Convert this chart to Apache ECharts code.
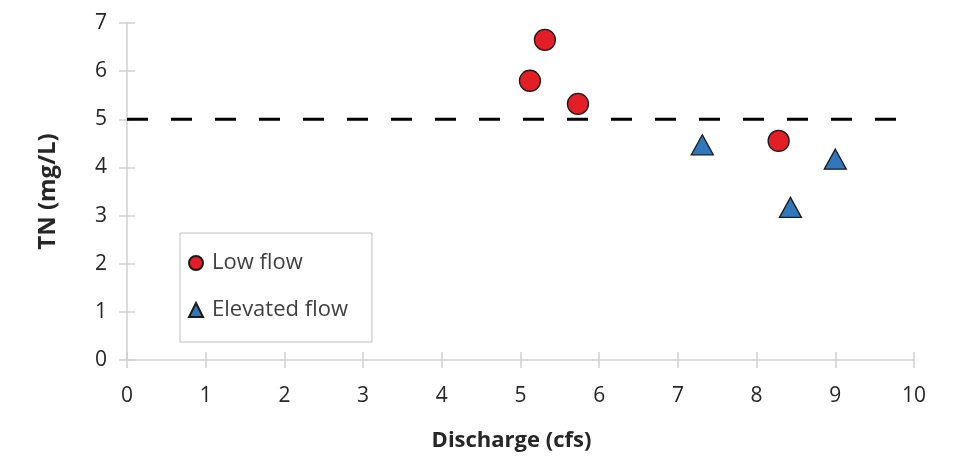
<!DOCTYPE html>
<html>
<head>
<meta charset="utf-8">
<script src="https://cdn.jsdelivr.net/npm/echarts@6/dist/echarts.min.js"></script>
<style>
  html, body { margin: 0; padding: 0; background: #ffffff; }
  #chart { width: 960px; height: 462px; }
</style>
</head>
<body>
<div id="chart"></div>
<script>
// Total nitrogen concentration vs. discharge
const lowFlowDischarge = [5.12, 5.31, 5.73, 8.28];
const lowFlowTN = [5.80, 6.65, 5.32, 4.55];
const elevatedFlowDischarge = [7.31, 8.43, 9.00];
const elevatedFlowTN = [4.47, 3.17, 4.17];
const criterionTN = 5;
const criterionExtent = [0, 9.78];

const seriesNames = ['Low flow', 'Elevated flow'];
const xTicks = { min: 0, max: 10, interval: 1 };
const yTicks = { min: 0, max: 7, interval: 1 };

const FONT = '"Open Sans", sans-serif';
const AXIS_GRAY = '#d0d0d0';
const TEXT = '#262626';

const pair = (xs, ys) => xs.map((x, i) => [x, ys[i]]);

const baseAxis = (t) => ({
  type: 'value', min: t.min, max: t.max, interval: t.interval,
  splitLine: { show: false },
  axisLine: { show: true, lineStyle: { color: AXIS_GRAY, width: 1.5 } },
  axisTick: { show: true, length: 8, lineStyle: { color: AXIS_GRAY, width: 1.5 } }
});

// second copy of each axis carries the inner half of the cross ticks
const innerTicks = (t, pos) => Object.assign(baseAxis(t), {
  position: pos, axisLine: { show: false },
  axisTick: { show: true, inside: true, length: 8, lineStyle: { color: AXIS_GRAY, width: 1.5 } },
  axisLabel: { show: false }
});

const chart = echarts.init(document.getElementById('chart'), null, { renderer: 'canvas' });
chart.setOption({
  animation: false,
  backgroundColor: '#ffffff',
  grid: { left: 127, right: 46, top: 23, bottom: 102 },
  xAxis: [
    Object.assign(baseAxis(xTicks), {
      name: 'Discharge (cfs)', nameLocation: 'middle', nameGap: 70,
      nameTextStyle: { fontFamily: FONT, fontWeight: 'bold', fontSize: 22, color: TEXT, padding: [0, 18, 0, 0] },
      axisLabel: { margin: 26, fontFamily: FONT, fontSize: 21, color: TEXT }
    }),
    innerTicks(xTicks, 'bottom')
  ],
  yAxis: [
    Object.assign(baseAxis(yTicks), {
      name: 'TN (mg/L)', nameLocation: 'middle', nameGap: 67, nameRotate: 90,
      nameTextStyle: { fontFamily: FONT, fontWeight: 'bold', fontSize: 24, color: TEXT },
      axisLabel: { margin: 20, fontFamily: FONT, fontSize: 21, color: TEXT }
    }),
    innerTicks(yTicks, 'left')
  ],
  legend: {
    data: seriesNames,
    orient: 'vertical',
    left: 180, top: 233,
    padding: [17, 24, 19, 8],
    itemWidth: 14, itemHeight: 14, itemGap: 21,
    backgroundColor: '#ffffff',
    borderColor: '#bfbfbf', borderWidth: 1, borderRadius: 0,
    textStyle: { fontFamily: FONT, fontSize: 22, color: '#404040', lineHeight: 26, padding: [0, 0, 0, 4] }
  },
  series: [
    {
      name: 'TN criterion', type: 'line', silent: true, symbol: 'none', z: 1,
      data: criterionExtent.map(x => [x, criterionTN]),
      // one full dash period as offset so the pattern opens with a dash at the axis
      lineStyle: { color: '#000000', width: 3, type: [21, 23], dashOffset: 44 }
    },
    {
      name: seriesNames[0], type: 'scatter', symbol: 'circle', symbolSize: 21, z: 3,
      data: pair(lowFlowDischarge, lowFlowTN),
      itemStyle: { color: '#e41e26', opacity: 1, borderColor: '#1a1a1a', borderWidth: 1.3 }
    },
    {
      name: seriesNames[1], type: 'scatter', symbol: 'triangle', symbolSize: [22, 20], z: 3,
      data: pair(elevatedFlowDischarge, elevatedFlowTN),
      itemStyle: { color: '#2e78bb', opacity: 1, borderColor: '#1a1a1a', borderWidth: 1.3 }
    }
  ]
});
</script>
</body>
</html>
